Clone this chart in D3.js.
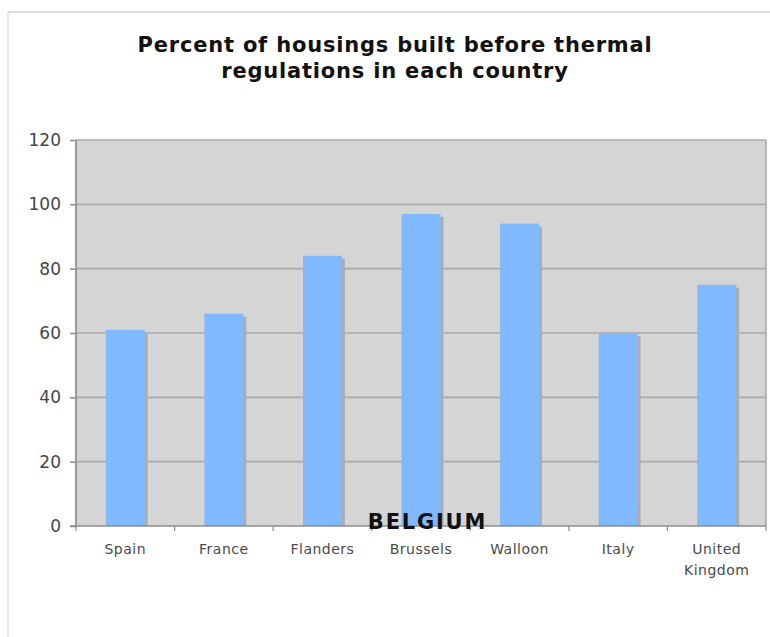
<!DOCTYPE html>
<html>
<head>
<meta charset="utf-8">
<script src="https://cdn.jsdelivr.net/npm/d3@7"></script>
<style>
  html, body { margin: 0; padding: 0; background: #fff; }
  svg { display: block; }
  text { font-family: "DejaVu Sans", Verdana, sans-serif; }
</style>
</head>
<body>
<svg id="chart" width="770" height="637"></svg>
<script>
// Share of dwellings built before thermal regulations (%)
const categories = ["Spain", "France", "Flanders", "Brussels", "Walloon", "Italy", "United Kingdom"];
const percentBuilt = [61, 66, 84, 97, 94, 60, 75];
const yTicks = [0, 20, 40, 60, 80, 100, 120];
const titleLines = ["Percent of housings built before thermal", "regulations in each country"];
const groupLabel = "BELGIUM";

const svg = d3.select("#chart");
const W = 770, H = 637;
const plot = { left: 76, right: 766, top: 140, bottom: 526 };

// outer chart frame (top and left edges)
svg.append("line").attr("x1", 8).attr("x2", W).attr("y1", 12).attr("y2", 12)
  .attr("stroke", "#d0d0d0").attr("stroke-width", 1.5);
svg.append("line").attr("x1", 8).attr("x2", 8).attr("y1", 12).attr("y2", H)
  .attr("stroke", "#e0e0e0").attr("stroke-width", 1.5);

const x = d3.scaleBand().domain(categories).range([plot.left, plot.right]).paddingInner(0).paddingOuter(0);
const y = d3.scaleLinear().domain([0, 120]).range([plot.bottom, plot.top]);

// plot background
svg.append("rect")
  .attr("x", plot.left).attr("y", plot.top)
  .attr("width", plot.right - plot.left).attr("height", plot.bottom - plot.top)
  .attr("fill", "#d5d5d5");

// horizontal gridlines
svg.append("g").selectAll("line").data(yTicks.filter(d => d > 0)).join("line")
  .attr("x1", plot.left).attr("x2", plot.right)
  .attr("y1", d => y(d)).attr("y2", d => y(d))
  .attr("stroke", "#a9a9a9").attr("stroke-width", 1.6);

// plot side borders
svg.append("line").attr("x1", plot.left).attr("x2", plot.left)
  .attr("y1", plot.top).attr("y2", plot.bottom)
  .attr("stroke", "#9a9a9a").attr("stroke-width", 2);
svg.append("line").attr("x1", plot.right).attr("x2", plot.right)
  .attr("y1", plot.top).attr("y2", plot.bottom)
  .attr("stroke", "#a9a9a9").attr("stroke-width", 1.6);

const barW = x.bandwidth() * 0.395;

// bar shadows
svg.append("g").selectAll("rect").data(categories).join("rect")
  .attr("x", (d, i) => x(d) + (x.bandwidth() - barW) / 2 + 3)
  .attr("y", (d, i) => y(percentBuilt[i]) + 3)
  .attr("width", barW)
  .attr("height", (d, i) => plot.bottom - y(percentBuilt[i]) - 3)
  .attr("fill", "#adadad");

// bars
svg.append("g").selectAll("rect").data(categories).join("rect")
  .attr("x", d => x(d) + (x.bandwidth() - barW) / 2)
  .attr("y", (d, i) => y(percentBuilt[i]))
  .attr("width", barW)
  .attr("height", (d, i) => plot.bottom - y(percentBuilt[i]))
  .attr("fill", "#80b9ff");

// y axis
const yAxis = svg.append("g").attr("transform", `translate(${plot.left},0)`)
  .call(d3.axisLeft(y).tickValues(yTicks).tickSize(6).tickPadding(9));
yAxis.select(".domain").remove();
yAxis.selectAll(".tick line").attr("stroke", "#8c8c8c").attr("stroke-width", 1.5);
yAxis.selectAll(".tick text")
  .attr("font-family", "DejaVu Sans, sans-serif")
  .attr("font-size", 17).attr("fill", "#454545");

// x axis: baseline and ticks at category boundaries
svg.append("line").attr("x1", plot.left - 6).attr("x2", plot.right)
  .attr("y1", plot.bottom).attr("y2", plot.bottom)
  .attr("stroke", "#8c8c8c").attr("stroke-width", 1.6);
const boundaries = categories.map(d => x(d)).concat([plot.right]);
svg.append("g").selectAll("line").data(boundaries).join("line")
  .attr("x1", d => d).attr("x2", d => d)
  .attr("y1", plot.bottom).attr("y2", plot.bottom + 5)
  .attr("stroke", "#8c8c8c").attr("stroke-width", 1.2);

// category labels
const labels = svg.append("g").selectAll("text").data(categories).join("text")
  .attr("text-anchor", "middle")
  .attr("font-size", 14).attr("letter-spacing", 0.5)
  .attr("fill", "#4a4a4a");
labels.each(function (d) {
  const words = d.split(" ");
  const t = d3.select(this);
  const cx = x(d) + x.bandwidth() / 2;
  (words.length > 1 ? words : [d]).forEach((w, k) => {
    t.append("tspan").attr("x", cx).attr("y", 554 + k * 21).text(w);
  });
});

// group label for the three Belgian regions
svg.append("text")
  .attr("x", x("Brussels") + x.bandwidth() / 2 + 6.5)
  .attr("y", 529)
  .attr("text-anchor", "middle")
  .attr("font-size", 21).attr("font-weight", "bold")
  .attr("letter-spacing", 1.8)
  .attr("fill", "#111")
  .text(groupLabel);

// title
svg.append("g").selectAll("text").data(titleLines).join("text")
  .attr("x", 395)
  .attr("y", (d, i) => 52 + i * 26)
  .attr("text-anchor", "middle")
  .attr("font-size", 21).attr("font-weight", "bold")
  .attr("letter-spacing", 0.8)
  .attr("fill", "#111")
  .text(d => d);
</script>
</body>
</html>
